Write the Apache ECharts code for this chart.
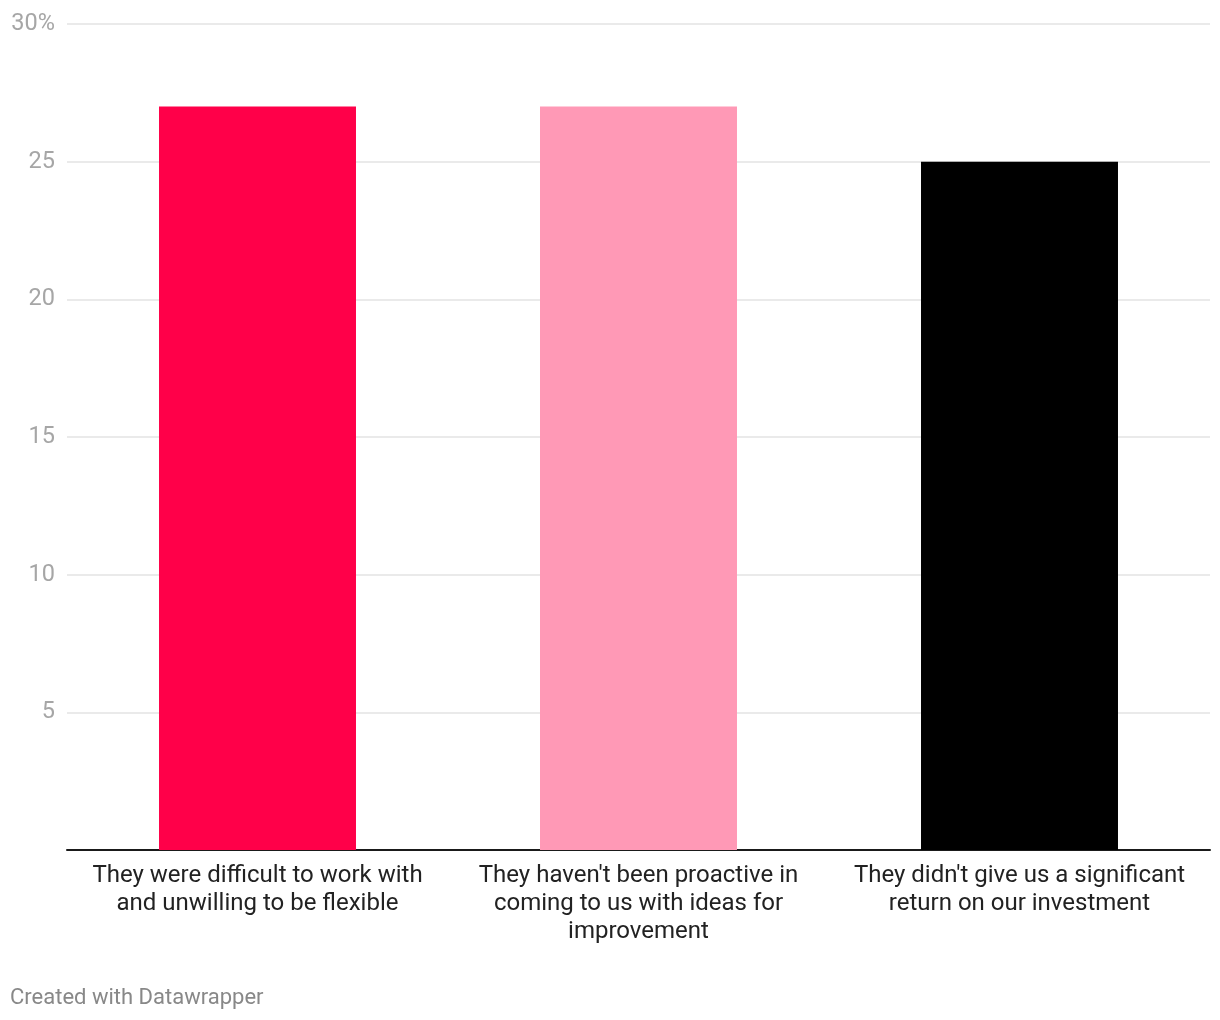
<!DOCTYPE html>
<html>
<head>
<meta charset="utf-8">
<script src="https://cdn.jsdelivr.net/npm/echarts@6/dist/echarts.min.js"></script>
<style>
html,body{margin:0;padding:0;background:#fff;}
#chart{width:1220px;height:1020px;}
</style>
</head>
<body>
<div id="chart"></div>
<script>
const categories = [
  "They were difficult to work with\nand unwilling to be flexible",
  "They haven't been proactive in\ncoming to us with ideas for\nimprovement",
  "They didn't give us a significant\nreturn on our investment"
];
const values = [27, 27, 25];
const barColors = ["#ff0049", "#ff99b6", "#000000"];
const yMin = 0, yMax = 30, yStep = 5;

const chart = echarts.init(document.getElementById('chart'), null, {renderer: 'canvas'});
chart.setOption({
  backgroundColor: '#ffffff',
  animation: false,
  textStyle: {fontFamily: 'Roboto'},
  grid: {left: 67, right: 10, top: 24, bottom: 170, containLabel: false},
  graphic: [{
    type: 'text', left: 10, top: 987,
    style: {text: 'Created with Datawrapper', fill: '#888888', font: '22px Roboto'}
  }],
  xAxis: {
    type: 'category',
    data: categories,
    axisLine: {show: true, lineStyle: {color: '#1a1a1a', width: 2}},
    axisTick: {show: false},
    axisLabel: {
      color: '#222222', fontSize: 24, lineHeight: 28, margin: 12,
      fontFamily: 'Roboto', interval: 0, align: 'center'
    }
  },
  yAxis: {
    type: 'value', min: yMin, max: yMax, interval: yStep,
    axisLine: {show: false}, axisTick: {show: false},
    splitLine: {lineStyle: {color: '#e3e3e3', width: 1.5}},
    axisLabel: {
      color: '#a6a6a6', fontSize: 23.5, margin: 12, fontFamily: 'Roboto',
      formatter: v => v === 0 ? '' : (v === yMax ? v + '%' : String(v))
    }
  },
  series: [{
    type: 'bar',
    data: values.map((v, i) => ({value: v, itemStyle: {color: barColors[i]}})),
    barWidth: '51.7%'
  }]
});
</script>
</body>
</html>
